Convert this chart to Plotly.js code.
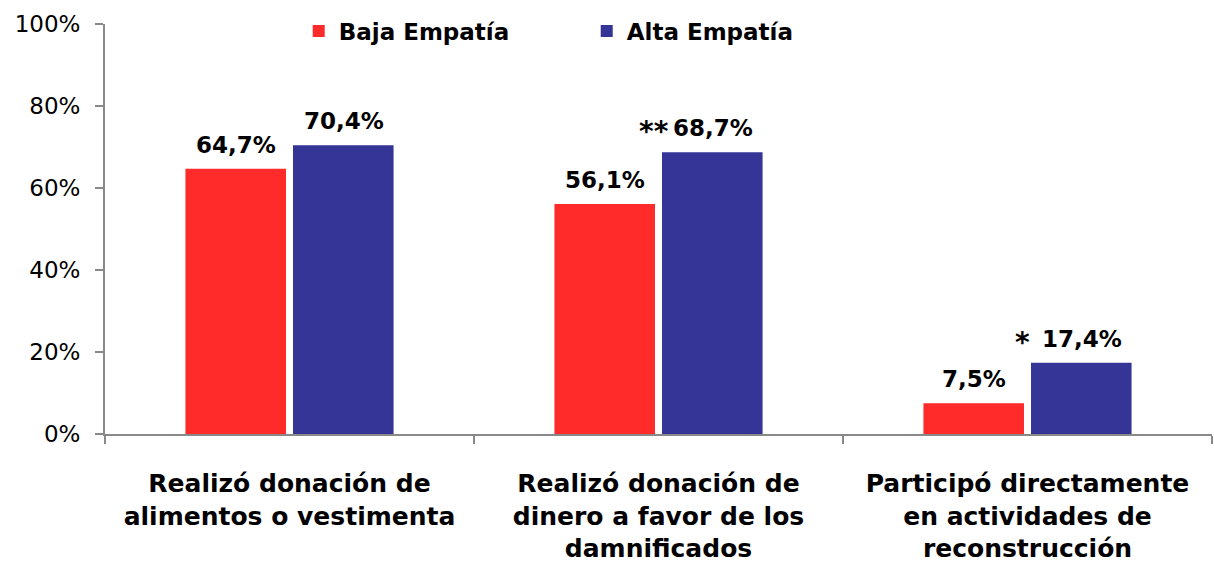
<!DOCTYPE html>
<html>
<head>
<meta charset="utf-8">
<script src="https://cdn.plot.ly/plotly-3.0.1.min.js"></script>
<style>html,body{margin:0;padding:0;background:#fff;}#chart{width:1214px;height:575px;}</style>
</head>
<body>
<div id="chart"></div>
<script>
const categories = [
  "Realizó donación de<br>alimentos o vestimenta",
  "Realizó donación de<br>dinero a favor de los<br>damnificados",
  "Participó directamente<br>en actividades de<br>reconstrucción"
];
const seriesNames = ["Baja Empatía", "Alta Empatía"];
const bajaValues = [64.7, 56.1, 7.5];
const altaValues = [70.4, 68.7, 17.4];
const altaMarks = ["", "**", "*"];
const tickValues = [0, 20, 40, 60, 80, 100];
const tickLabels = ["0%", "20%", "40%", "60%", "80%", "100%"];

const RED = "#FF2A2A", BLUE = "#353597";
const FONT = "'DejaVu Sans', sans-serif";
const fmt = v => v.toFixed(1).replace(".", ",") + "%";

const traces = [
  {type: "bar", name: "<b>" + seriesNames[0] + "</b>", x: categories, y: bajaValues,
   marker: {color: RED}, hoverinfo: "none"},
  {type: "bar", name: "<b>" + seriesNames[1] + "</b>", x: categories, y: altaValues,
   marker: {color: BLUE}, hoverinfo: "none"}
];

const annotations = [];
const OFF = 54;
categories.forEach((c, i) => {
  annotations.push({x: c, y: bajaValues[i], xref: "x", yref: "y", xshift: -OFF, yshift: 9,
    yanchor: "bottom", showarrow: false, text: "<b>" + fmt(bajaValues[i]) + "</b>",
    font: {family: FONT, size: 23, color: "#000"}});
  annotations.push({x: c, y: altaValues[i], xref: "x", yref: "y", xshift: OFF, yshift: 9,
    yanchor: "bottom", showarrow: false, text: "<b>" + fmt(altaValues[i]) + "</b>",
    font: {family: FONT, size: 23, color: "#000"}});
  if (altaMarks[i]) {
    annotations.push({x: c, y: altaValues[i], xref: "x", yref: "y", xshift: -5, yshift: 2,
      yanchor: "bottom", showarrow: false, text: "<b>" + altaMarks[i] + "</b>",
      font: {family: FONT, size: 28, color: "#000"}});
  }
});

const layout = {
  width: 1214, height: 575,
  margin: {l: 105, r: 2, t: 24, b: 141, pad: 0},
  paper_bgcolor: "#fff", plot_bgcolor: "#fff",
  font: {family: FONT, color: "#000"},
  barmode: "group", bargap: 0.417, bargroupgap: 0.065,
  showlegend: true,
  legend: {orientation: "h", x: 0.175, xanchor: "left", y: 1.035, yanchor: "top",
    entrywidth: 243, entrywidthmode: "pixels",
    font: {family: FONT, size: 23, color: "#000"}, bgcolor: "rgba(0,0,0,0)"},
  xaxis: {type: "category", showline: true, linecolor: "#898989", linewidth: 2,
    ticks: "outside", tickson: "boundaries", ticklen: 8, tickcolor: "#898989", tickwidth: 1.5,
    tickfont: {family: FONT, size: 25, color: "#000", weight: "bold"},
    ticklabelstandoff: 26, showgrid: false, zeroline: false, fixedrange: true},
  yaxis: {range: [0, 100], tickvals: tickValues, ticktext: tickLabels,
    showline: true, linecolor: "#898989", linewidth: 2,
    ticks: "outside", ticklen: 8, tickcolor: "#898989", tickwidth: 1.5,
    tickfont: {family: FONT, size: 23, color: "#000"}, ticklabelstandoff: 10,
    showgrid: false, zeroline: false, fixedrange: true},
  annotations: annotations
};

Plotly.newPlot("chart", traces, layout, {displayModeBar: false, staticPlot: true});
</script>
</body>
</html>
